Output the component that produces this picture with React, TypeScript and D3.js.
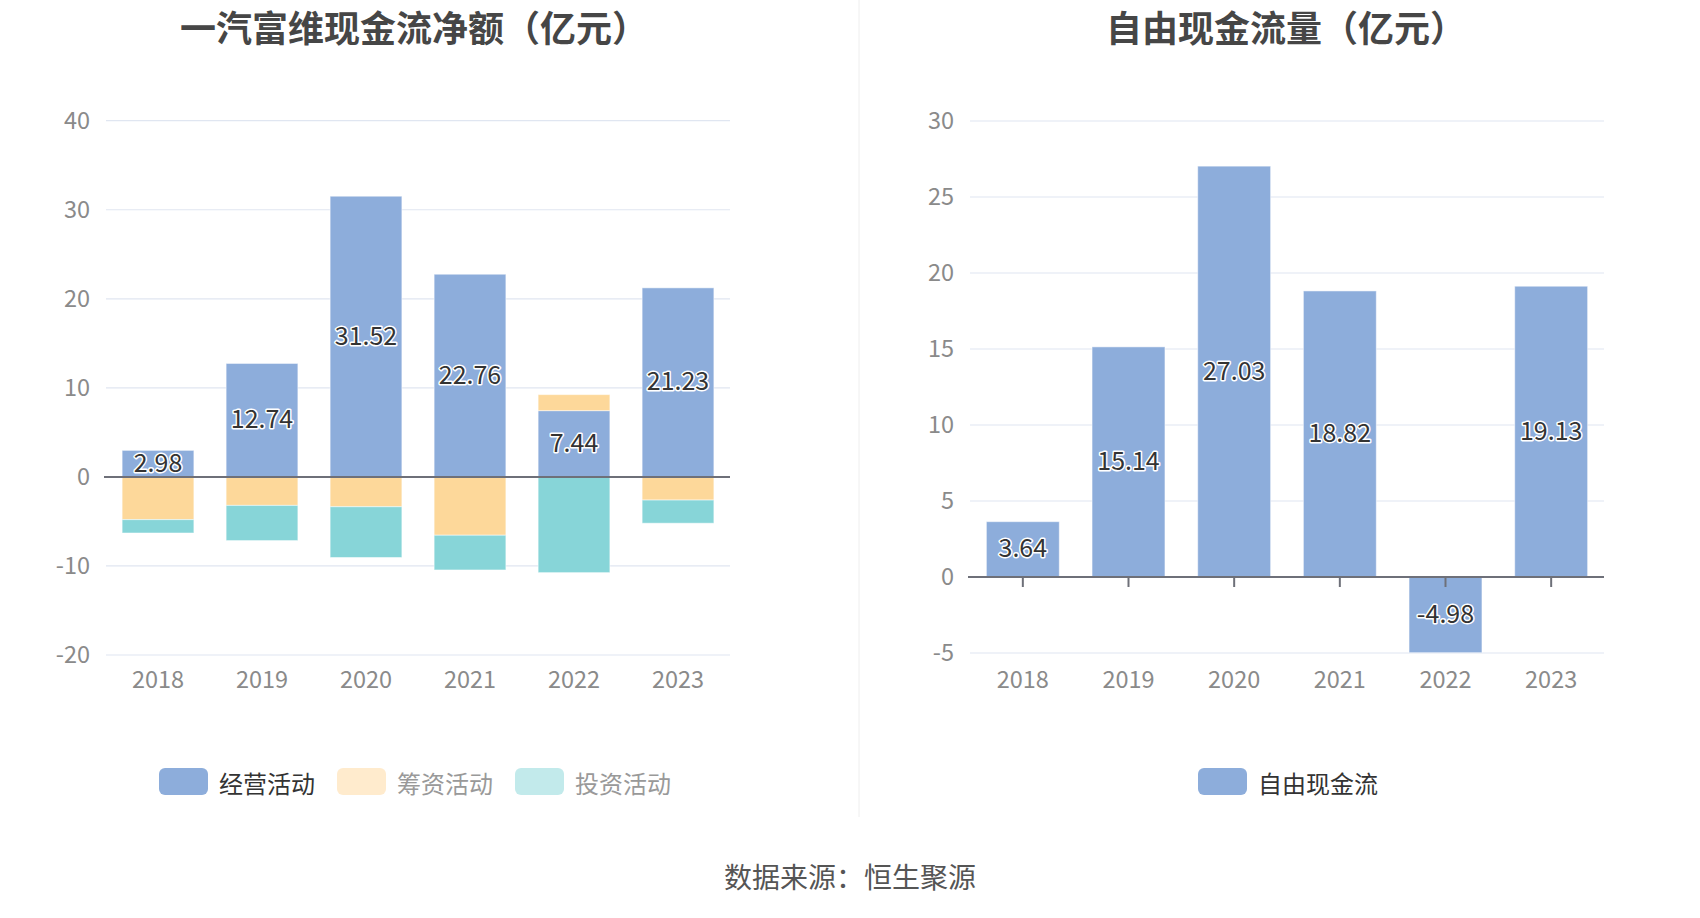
import React from 'react';
import * as d3 from 'd3';

const width = 1700;
const height = 918;
const font = '"Noto Sans CJK SC", "Noto Sans", sans-serif';

const years = ['2018', '2019', '2020', '2021', '2022', '2023'];
const operating = [2.98, 12.74, 31.52, 22.76, 7.44, 21.23];
const financing = [-4.8, -3.2, -3.35, -6.55, 1.8, -2.6];
const investing = [-1.5, -3.95, -5.7, -3.9, -10.75, -2.6];
const freeCash = [3.64, 15.14, 27.03, 18.82, -4.98, 19.13];

const leftTicks = [-20, -10, 0, 10, 20, 30, 40];
const rightTicks = [-5, 0, 5, 10, 15, 20, 25, 30];

const seriesKeys = ['operating', 'financing', 'investing'];
const seriesNames = ['经营活动', '筹资活动', '投资活动'];
const seriesColors = ['#8DADDB', '#FDD89A', '#87D5D8'];
const legendColors = ['#8DADDB', '#FFEBCD', '#C2EAEB'];
const legendText = ['#333', '#999', '#999'];

const rows = years.map((y, i) => ({
  year: y,
  operating: operating[i],
  financing: financing[i],
  investing: investing[i],
}));

const xLeft = d3.scaleBand<string>().domain(years).range([106, 730]).paddingInner(0.31).paddingOuter(0.155);
const yLeft = d3.scaleLinear().domain([-20, 40]).range([655, 120.7]);
const xRight = d3.scaleBand<string>().domain(years).range([970, 1604]).paddingInner(0.31).paddingOuter(0.155);
const yRight = d3.scaleLinear().domain([-5, 30]).range([653, 121]);

const stacked = d3.stack<any>().keys(seriesKeys).offset(d3.stackOffsetDiverging)(rows);

const labelStyle = {
  fontFamily: font,
  fontSize: 25,
  fill: '#333',
  stroke: '#fff',
  strokeWidth: 3,
  paintOrder: 'stroke',
  strokeLinejoin: 'round' as const,
};

const axisText = { fontFamily: font, fontSize: 23.5, fill: '#8a8a8a' };

const Grid = ({ ticks, y, x0, x1 }: { ticks: number[]; y: d3.ScaleLinear<number, number>; x0: number; x1: number }) => (
  <g>
    {ticks.map(t => (
      <g key={t}>
        {t !== 0 && <line x1={x0} x2={x1} y1={y(t)} y2={y(t)} stroke='#E0E6F1' strokeWidth={1.2} />}
        <text x={x0 - 16} y={y(t) - 2} textAnchor='end' dominantBaseline='central' {...axisText}>{t}</text>
      </g>
    ))}
  </g>
);

export default function App() {
  return (
    <svg width={width} height={height} style={{ position: 'absolute', left: 0, top: 0, background: '#fff' }}>
      {/* titles */}
      <text x={414} y={26} textAnchor='middle' dominantBaseline='central' fontFamily={font} fontSize={36} fontWeight='bold' fill='#464646'>
        一汽富维现金流净额（亿元）
      </text>
      <text x={1286} y={26} textAnchor='middle' dominantBaseline='central' fontFamily={font} fontSize={36} fontWeight='bold' fill='#464646'>
        自由现金流量（亿元）
      </text>

      <line x1={859} x2={859} y1={0} y2={817} stroke='#EEEEEE' strokeWidth={1} />

      {/* left chart */}
      <Grid ticks={leftTicks} y={yLeft} x0={106} x1={730} />
      {stacked.map((s, si) => (
        <g key={s.key} fill={seriesColors[si]}>
          {s.map((d, i) => (
            <rect
              key={i}
              x={xLeft(years[i])}
              width={xLeft.bandwidth()}
              y={yLeft(Math.max(d[0], d[1]))}
              height={Math.abs(yLeft(d[0]) - yLeft(d[1]))}
              stroke='#fff'
              strokeOpacity={0.5}
              strokeWidth={1}
            />
          ))}
        </g>
      ))}
      <line x1={104} x2={730} y1={yLeft(0)} y2={yLeft(0)} stroke='#6E7079' strokeWidth={2} />
      {operating.map((v, i) => (
        <text key={i} x={xLeft(years[i])! + xLeft.bandwidth() / 2} y={yLeft(v / 2) - 3} textAnchor='middle' dominantBaseline='central' {...labelStyle}>
          {v.toFixed(2)}
        </text>
      ))}
      {years.map(y => (
        <text key={y} x={xLeft(y)! + xLeft.bandwidth() / 2} y={678} textAnchor='middle' dominantBaseline='central' {...axisText}>{y}</text>
      ))}

      {/* left legend */}
      {seriesNames.map((n, i) => {
        const x = 159 + i * 178;
        return (
          <g key={n}>
            <rect x={x} y={768} width={49} height={27} rx={6} fill={legendColors[i]} />
            <text x={x + 60} y={782} dominantBaseline='central' fontFamily={font} fontSize={24} fill={legendText[i]}>{n}</text>
          </g>
        );
      })}

      {/* right chart */}
      <Grid ticks={rightTicks} y={yRight} x0={970} x1={1604} />
      {freeCash.map((v, i) => (
        <rect
          key={i}
          x={xRight(years[i])}
          width={xRight.bandwidth()}
          y={yRight(Math.max(0, v))}
          height={Math.abs(yRight(v) - yRight(0))}
          fill='#8DADDB'
          stroke='#fff'
          strokeOpacity={0.5}
          strokeWidth={1}
        />
      ))}
      <line x1={968} x2={1604} y1={yRight(0)} y2={yRight(0)} stroke='#6E7079' strokeWidth={2} />
      {years.map(y => (
        <line key={y} x1={xRight(y)! + xRight.bandwidth() / 2} x2={xRight(y)! + xRight.bandwidth() / 2} y1={yRight(0)} y2={yRight(0) + 10} stroke='#6E7079' strokeWidth={2} />
      ))}
      {freeCash.map((v, i) => (
        <text key={i} x={xRight(years[i])! + xRight.bandwidth() / 2} y={yRight(v / 2) - 3} textAnchor='middle' dominantBaseline='central' {...labelStyle}>
          {v.toFixed(2)}
        </text>
      ))}
      {years.map(y => (
        <text key={y} x={xRight(y)! + xRight.bandwidth() / 2} y={678} textAnchor='middle' dominantBaseline='central' {...axisText}>{y}</text>
      ))}

      {/* right legend */}
      <rect x={1198} y={768} width={49} height={27} rx={6} fill='#8DADDB' />
      <text x={1258} y={782} dominantBaseline='central' fontFamily={font} fontSize={24} fill='#333'>自由现金流</text>

      <text x={850} y={876} textAnchor='middle' dominantBaseline='central' fontFamily={font} fontSize={28} fill='#555'>
        数据来源：恒生聚源
      </text>
    </svg>
  );
}
